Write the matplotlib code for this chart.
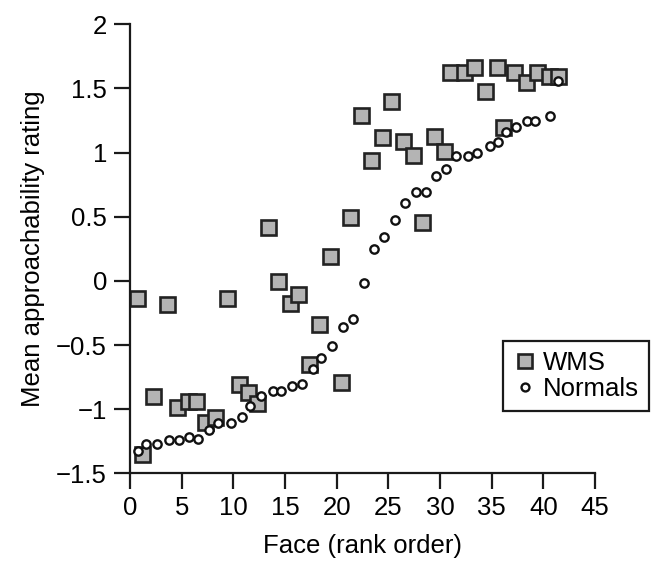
import numpy as np
from matplotlib import pyplot as plt

# values
wms_x = [0.7, 1.2, 2.2, 3.6, 4.5, 5.6, 6.4, 7.3, 8.2, 9.4, 10.5, 11.4, 12.3, 13.4,
         14.3, 15.5, 16.3, 17.3, 18.3, 19.4, 20.4, 21.3, 22.4, 23.3, 24.4, 25.3,
         26.4, 27.4, 28.3, 29.4, 30.4, 31.0, 32.3, 33.3, 34.4, 35.5, 36.1, 37.2,
         38.3, 39.4, 40.5, 41.4]
wms_y = [-0.13, -1.35, -0.90, -0.18, -0.98, -0.94, -0.94, -1.10, -1.06, -0.13,
         -0.80, -0.87, -0.95, 0.42, 0.00, -0.17, -0.10, -0.65, -0.34, 0.19, -0.79,
         0.50, 1.29, 0.94, 1.12, 1.40, 1.09, 0.98, 0.46, 1.13, 1.01, 1.63, 1.63,
         1.67, 1.48, 1.67, 1.20, 1.63, 1.55, 1.63, 1.60, 1.60]

normal_x = [0.8, 1.5, 2.6, 3.8, 4.7, 5.7, 6.6, 7.6, 8.5, 9.8, 10.8, 11.6, 12.65,
            13.8, 14.6, 15.7, 16.6, 17.7, 18.5, 19.5, 20.6, 21.6, 22.6, 23.65,
            24.6, 25.6, 26.6, 27.65, 28.65, 29.6, 30.6, 31.5, 32.7, 33.6, 34.8,
            35.65, 36.4, 37.4, 38.4, 39.2, 40.6, 41.4]
normal_y = [-1.33, -1.27, -1.27, -1.24, -1.24, -1.22, -1.23, -1.16, -1.105, -1.11,
            -1.06, -0.975, -0.90, -0.86, -0.86, -0.82, -0.80, -0.69, -0.60, -0.51,
            -0.36, -0.30, -0.02, 0.25, 0.345, 0.475, 0.605, 0.69, 0.69, 0.82, 0.87,
            0.97, 0.97, 1.0, 1.05, 1.085, 1.16, 1.20, 1.25, 1.25, 1.285, 1.56]

xticks = np.arange(0, 50, 5)
yticks = [-1.5, -1, -0.5, 0, 0.5, 1, 1.5, 2]
ytick_labels = ['\u22121.5', '\u22121', '\u22120.5', '0', '0.5', '1', '1.5', '2']

plt.rcParams['font.family'] = 'Liberation Sans'
plt.rcParams['font.size'] = 18.5

fig = plt.figure(figsize=(6.56, 5.61), dpi=100)
ax = fig.add_axes([130/656, 1-473.3/561, (595-130)/656, (473.3-24.3)/561])

ax.plot(wms_x, wms_y, linestyle='none', marker='s', markersize=10.8,
        markerfacecolor='#b4b4b4', markeredgecolor='#222222', markeredgewidth=1.9,
        label='WMS', clip_on=False)
ax.plot(normal_x, normal_y, linestyle='none', marker='o', markersize=6.0,
        markerfacecolor='white', markeredgecolor='#111111', markeredgewidth=1.7,
        label='Normals', clip_on=False)

ax.set_xlim(0, 45)
ax.set_ylim(-1.5, 2)
ax.set_xticks(xticks)
ax.set_yticks(yticks)
ax.set_yticklabels(ytick_labels)
ax.spines['top'].set_visible(False)
ax.spines['right'].set_visible(False)
for s in ['left', 'bottom']:
    ax.spines[s].set_linewidth(1.6)
    ax.spines[s].set_color('#1a1a1a')
ax.tick_params(direction='out', length=11.5, width=1.6, color='#1a1a1a', pad=5)

ax.set_xlabel('Face (rank order)', labelpad=10)
ax.set_ylabel('Mean approachability rating', labelpad=8)

leg = ax.legend(loc='upper left', bbox_to_anchor=(503/656, 1-341/561),
                bbox_transform=fig.transFigure, fancybox=False, framealpha=1,
                edgecolor='#1a1a1a', markerscale=0.95, handlelength=0.9,
                handletextpad=0.25, borderpad=0.4, labelspacing=0.05,
                borderaxespad=0)
leg.get_frame().set_linewidth(1.6)

fig.savefig('out.png', dpi=100)
